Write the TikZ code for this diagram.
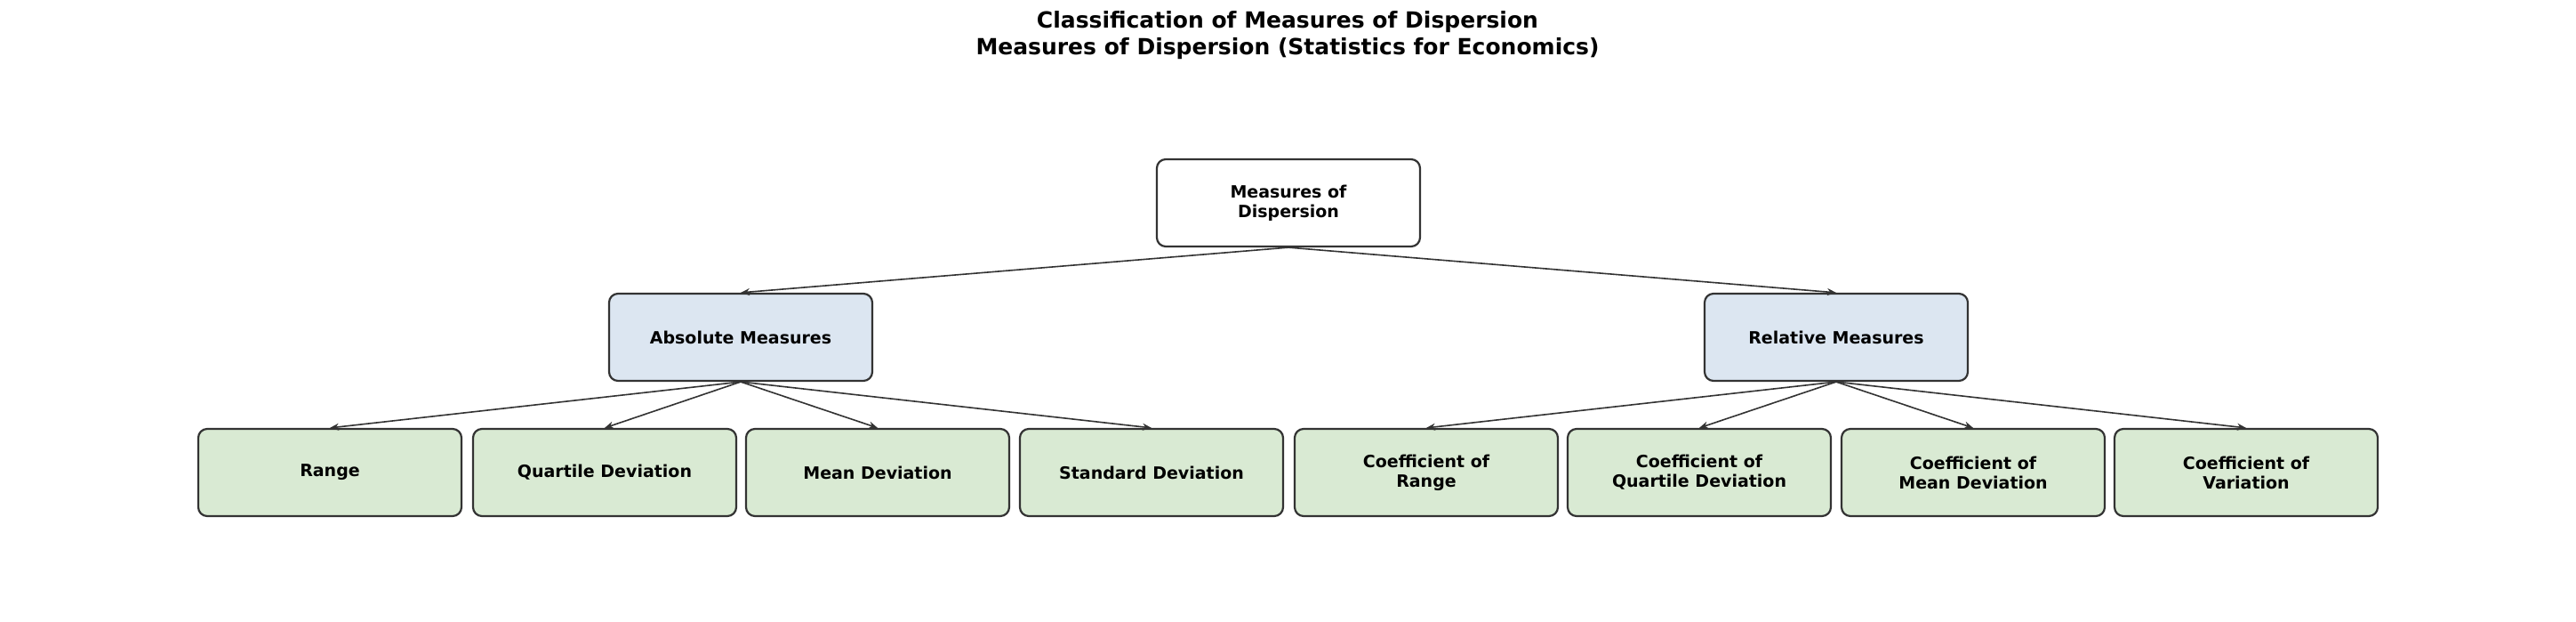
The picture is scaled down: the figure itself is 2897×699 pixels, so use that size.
\documentclass[tikz,border=0pt]{standalone}
\usepackage{fontspec}
\setmainfont{DejaVu Sans}
\usetikzlibrary{arrows.meta}
\definecolor{lc}{HTML}{333333}
\definecolor{bluef}{HTML}{DCE6F1}
\definecolor{greenf}{HTML}{D9EAD3}
\tikzset{
 box/.style={draw=lc,line width=1.1pt,rounded corners=5pt,minimum width=148pt,minimum height=49pt,align=center,font=\bfseries\fontsize{9.5}{11}\selectfont,inner sep=2pt},
 rootbox/.style={box,fill=white},
 midbox/.style={box,fill=bluef},
 leafbox/.style={box,fill=greenf},
 conn/.style={draw=lc,line width=0.8pt,-{Stealth[length=5pt,width=4pt]}}
}
\begin{document}
\begin{tikzpicture}[x=0.5pt,y=-0.5pt]
\useasboundingbox (0,0) rectangle (2897,699);
\node[font=\bfseries\fontsize{12.5}{15}\selectfont,align=center] (title) at (1448,40) {Classification of Measures of Dispersion\\Measures of Dispersion (Statistics for Economics)};
\node[rootbox] (root) at (1449,228) {Measures of\\Dispersion};
\node[midbox] (abs) at (833,379) {Absolute Measures};
\node[midbox] (rel) at (2065,379) {Relative Measures};
\node[leafbox] (l1) at (371,531) {Range};
\node[leafbox] (l2) at (680,531) {Quartile Deviation};
\node[leafbox] (l3) at (987,531) {Mean Deviation};
\node[leafbox] (l4) at (1295,531) {Standard Deviation};
\node[leafbox] (l5) at (1604,531) {Coefficient of\\Range};
\node[leafbox] (l6) at (1911,531) {Coefficient of\\Quartile Deviation};
\node[leafbox] (l7) at (2219,531) {Coefficient of\\Mean Deviation};
\node[leafbox] (l8) at (2526,531) {Coefficient of\\Variation};
\draw[conn] (root.south) -- (abs.north);
\draw[conn] (root.south) -- (rel.north);
\foreach \c in {l1,l2,l3,l4} \draw[conn] (abs.south) -- (\c.north);
\foreach \c in {l5,l6,l7,l8} \draw[conn] (rel.south) -- (\c.north);
\end{tikzpicture}
\end{document}
